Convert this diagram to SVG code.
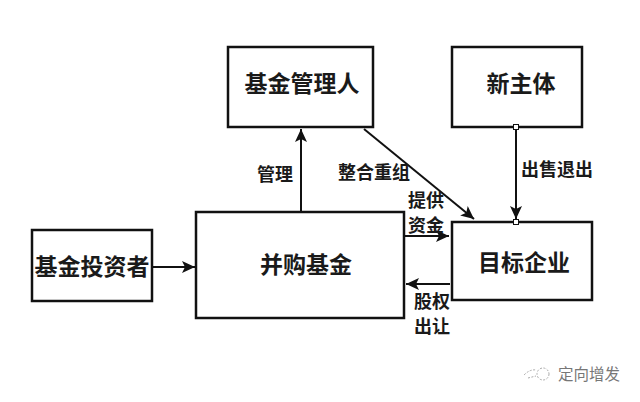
<svg xmlns="http://www.w3.org/2000/svg" width="640" height="402" viewBox="0 0 640 402">
<defs>
<style>
.box{fill:#fff;stroke:#111;stroke-width:2.500}
.c{fill:none;stroke:#111;stroke-width:2}
.big{font-family:"Noto Sans CJK SC",sans-serif;font-size:23px;font-weight:700;fill:#1a1a1a;text-anchor:middle}
.sm{font-family:"Noto Sans CJK SC",sans-serif;font-size:18px;font-weight:700;fill:#1a1a1a;text-anchor:middle}
.h{fill:#fff;stroke:#111;stroke-width:1}
</style>
<marker id="a" markerUnits="userSpaceOnUse" markerWidth="15" markerHeight="14" refX="13" refY="7" orient="auto"><path d="M0 1L13 7L0 13L3 7Z" fill="#111"/></marker>
</defs>
<rect width="640" height="402" fill="#fff"/>
<g id="connectors">
<path class="c" d="M153 267H195" marker-end="url(#a)"/>
<path class="c" d="M301 212V129" marker-end="url(#a)"/>
<path class="c" d="M364 129L474 219" marker-end="url(#a)"/>
<path class="c" d="M516 127V219" marker-end="url(#a)"/>
<path class="c" d="M404 236H449" marker-end="url(#a)"/>
<path class="c" d="M450 284H406" marker-end="url(#a)"/>
</g>
<g id="investor"><rect class="box" x="32" y="230" width="120" height="71"/><text class="big" x="92" y="275">基金投资者</text></g>
<g id="fund"><rect class="box" x="196" y="212" width="208" height="106"/><text class="big" x="306" y="273">并购基金</text></g>
<g id="manager"><rect class="box" x="228" y="47" width="145" height="80"/><text class="big" x="302" y="92">基金管理人</text></g>
<g id="newco"><rect class="box" x="452" y="47" width="130" height="80"/><text class="big" x="521" y="92">新主体</text></g>
<g id="target"><rect class="box" x="452" y="222" width="140" height="78"/><text class="big" x="524" y="271">目标企业</text></g>
<g id="handles">
<rect class="h" x="513.500" y="124.500" width="5" height="5"/>
<rect class="h" x="513.500" y="219.500" width="5" height="5"/>
</g>
<g id="labels">
<text class="sm" x="275" y="181">管理</text>
<text class="sm" x="374" y="179">整合重组</text>
<text class="sm" x="557" y="176">出售退出</text>
<text class="sm" x="426" y="207">提供</text>
<text class="sm" x="426" y="232">资金</text>
<text class="sm" x="432" y="308">股权</text>
<text class="sm" x="432" y="333">出让</text>
<text x="589" y="380" font-family="Noto Sans CJK SC,sans-serif" font-size="15.500" fill="#777" text-anchor="middle">定向增发</text>
<g fill="none" stroke="#aaa" stroke-width="1" stroke-dasharray="2 1.500"><circle cx="543" cy="374" r="6"/><path d="M524 375 Q530 369 536 370 M528 378 L536 376"/></g>
</g>
</svg>
